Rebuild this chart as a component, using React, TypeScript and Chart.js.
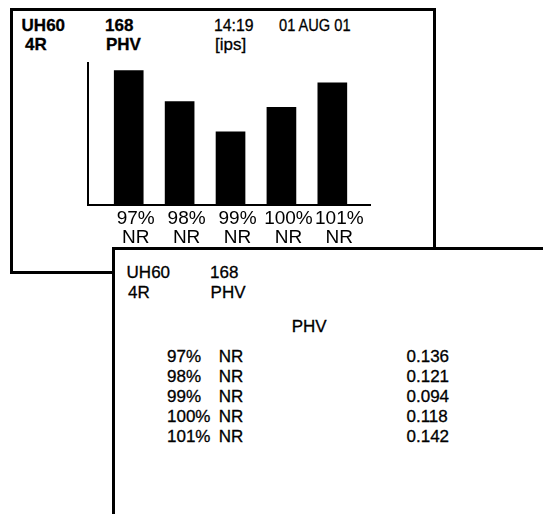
import React, { useEffect, useRef } from "react";
import { Chart, registerables } from "chart.js";

Chart.register(...registerables);

// ---- data ----
const categories = ["97%", "98%", "99%", "100%", "101%"];
const unitLabel = "NR";
// bar heights in ips, estimated from the drawn bars
const barValues = [0.142, 0.109, 0.077, 0.103, 0.129];
const yMax = 0.15;
// values listed in the table box
const tableValues = ["0.136", "0.121", "0.094", "0.118", "0.142"];
const headerLeft = ["UH60", "4R"];
const headerMid = ["168", "PHV"];
const headerTime = "14:19";
const headerDate = "01 AUG 01";
const headerUnit = "[ips]";
const tableTitle = "PHV";

const FONT = '"Liberation Sans", Arial, Helvetica, sans-serif';

type TP = { x: number; base: number; text: string; size?: number; bold?: boolean; sx?: number };
function T({ x, base, text, size = 17, bold = false, sx = 1 }: TP) {
  return (
    <div
      style={{
        position: "absolute",
        left: x,
        top: base - 0.8465 * size,
        fontFamily: FONT,
        fontSize: size,
        lineHeight: `${size}px`,
        fontWeight: bold ? 700 : 400,
        whiteSpace: "pre",
        color: "#000",
        transform: sx !== 1 ? `scaleX(${sx})` : undefined,
        transformOrigin: "left center",
        WebkitTextStroke: "0.3px #000",
      }}
    >
      {text}
    </div>
  );
}

export default function App() {
  const ref = useRef<HTMLCanvasElement | null>(null);

  useEffect(() => {
    if (!ref.current) return;
    const chart = new Chart(ref.current, {
      type: "bar",
      data: {
        datasets: [
          {
            data: barValues.map((v, i) => ({ x: i, y: v })) as any,
            backgroundColor: "#000",
            borderWidth: 0,
            barThickness: 29,
          },
        ],
      },
      options: {
        animation: false,
        responsive: false,
        maintainAspectRatio: false,
        layout: { padding: { left: 88, right: 173, top: 63, bottom: 514 - 204.5 - 40 } },
        plugins: { legend: { display: false }, tooltip: { enabled: false }, title: { display: false } },
        scales: {
          x: {
            type: "linear",
            min: -0.8,
            max: 4.74,
            offset: false,
            grid: { display: false, drawTicks: false },
            border: { display: true, color: "#000", width: 2 },
            afterBuildTicks: (s: any) => {
              s.ticks = categories.map((_, i) => ({ value: i }));
            },
            afterFit: (s: any) => {
              s.height = 40;
            },
            ticks: {
              autoSkip: false,
              maxRotation: 0,
              minRotation: 0,
              padding: 4,
              labelOffset: 7,
              color: "#000",
              font: { family: FONT, size: 19, lineHeight: 1.03 },
              callback: (_v: any, i: number) => [categories[i], unitLabel],
            },
          },
          y: {
            min: 0,
            max: yMax,
            grid: { display: false, drawTicks: false },
            border: { display: true, color: "#000", width: 2 },
            ticks: { display: false },
            afterFit: (s: any) => {
              s.width = 0;
            },
          },
        },
      } as any,
    });
    return () => chart.destroy();
  }, []);

  return (
    <div style={{ position: "absolute", left: 0, top: 0, width: 543, height: 514, overflow: "hidden", background: "#fff" }}>
      {/* top box */}
      <div
        style={{
          position: "absolute",
          left: 10,
          top: 8,
          width: 426,
          height: 266,
          border: "3px solid #000",
          boxSizing: "border-box",
        }}
      />
      <T x={21.6} base={31} text={headerLeft[0]} bold />
      <T x={25} base={50} text={headerLeft[1]} bold />
      <T x={105} base={31} text={headerMid[0]} bold />
      <T x={106} base={50} text={headerMid[1]} bold />
      <T x={214} base={31} text={headerTime} sx={0.93} />
      <T x={215} base={50} text={headerUnit} />
      <T x={279} base={31} text={headerDate} sx={0.86} />
      <canvas ref={ref} width={543} height={514} style={{ position: "absolute", left: 0, top: 0, width: 543, height: 514 }} />
      {/* table box */}
      <div
        style={{
          position: "absolute",
          left: 112,
          top: 247,
          width: 500,
          height: 400,
          border: "3px solid #000",
          boxSizing: "border-box",
          background: "#fff",
        }}
      />
      <T x={126.6} base={278} text={headerLeft[0]} />
      <T x={128} base={298} text={headerLeft[1]} />
      <T x={210} base={278} text={headerMid[0]} />
      <T x={210.6} base={298} text={headerMid[1]} />
      <T x={291.7} base={332} text={tableTitle} />
      {categories.map((c, i) => (
        <React.Fragment key={c}>
          <T x={167} base={362 + i * 20} text={c} />
          <T x={218.7} base={362 + i * 20} text={unitLabel} />
          <T x={406.5} base={362 + i * 20} text={tableValues[i]} />
        </React.Fragment>
      ))}
    </div>
  );
}
